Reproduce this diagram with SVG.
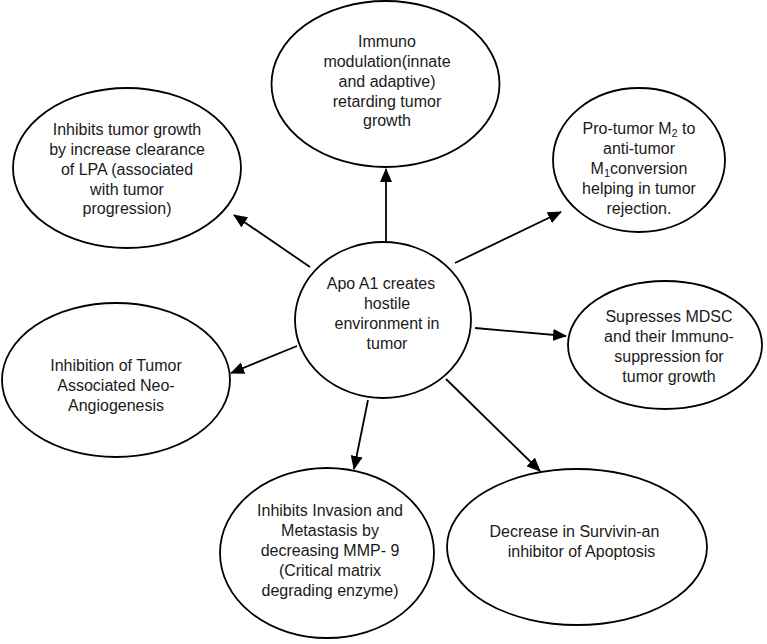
<svg xmlns="http://www.w3.org/2000/svg" width="767" height="644" viewBox="0 0 767 644">
<style>
.node ellipse{fill:#fff;stroke:#000;stroke-width:1.8}
.node text{font-family:"Liberation Sans",Arial,sans-serif;font-size:16px;fill:#1a1a1a;text-anchor:middle}
.conn line{stroke:#000;stroke-width:1.8}
.sub{font-size:11px}
</style>
<defs>
<marker id="ah" markerUnits="userSpaceOnUse" markerWidth="14" markerHeight="12" refX="13" refY="6" orient="auto">
<path d="M0,0 L14,6 L0,12 Z" fill="#000"/>
</marker>
</defs>
<rect width="767" height="644" fill="#fff"/>
<g class="conn">
<line x1="386" y1="242" x2="386" y2="169" marker-end="url(#ah)"/>
<line x1="310" y1="267" x2="234" y2="215" marker-end="url(#ah)"/>
<line x1="455" y1="263" x2="561" y2="212" marker-end="url(#ah)"/>
<line x1="475" y1="328" x2="566" y2="336" marker-end="url(#ah)"/>
<line x1="297" y1="346" x2="231" y2="373" marker-end="url(#ah)"/>
<line x1="368" y1="400" x2="354" y2="469" marker-end="url(#ah)"/>
<line x1="446" y1="379" x2="540" y2="471" marker-end="url(#ah)"/>
</g>
<g id="n-center" class="node">
<ellipse cx="383" cy="320" rx="88" ry="78"/>
<text><tspan x="381" y="289">Apo A1 creates</tspan><tspan x="387" y="309">hostile</tspan><tspan x="387" y="329">environment in</tspan><tspan x="387" y="349">tumor</tspan></text>
</g>
<g id="n-immuno" class="node">
<ellipse cx="385.5" cy="84" rx="114" ry="83"/>
<text><tspan x="387" y="47">Immuno</tspan><tspan x="387" y="67">modulation(innate</tspan><tspan x="387" y="87">and adaptive)</tspan><tspan x="387" y="107">retarding tumor</tspan><tspan x="387" y="126">growth</tspan></text>
</g>
<g id="n-lpa" class="node">
<ellipse cx="127" cy="168" rx="114" ry="80"/>
<text><tspan x="127" y="135">Inhibits tumor growth</tspan><tspan x="127" y="155">by increase clearance</tspan><tspan x="127" y="175">of LPA (associated</tspan><tspan x="127" y="195">with tumor</tspan><tspan x="127" y="214">progression)</tspan></text>
</g>
<g id="n-m2m1" class="node">
<ellipse cx="639" cy="160" rx="86" ry="72"/>
<text><tspan x="639" y="134">Pro-tumor M<tspan class="sub" dy="3">2</tspan><tspan dy="-3"> to</tspan></tspan><tspan x="639" y="154">anti-tumor</tspan><tspan x="639" y="174">M<tspan class="sub" dy="3">1</tspan><tspan dy="-3">conversion</tspan></tspan><tspan x="639" y="194">helping in tumor</tspan><tspan x="639" y="214">rejection.</tspan></text>
</g>
<g id="n-mdsc" class="node">
<ellipse cx="665" cy="345" rx="97" ry="64"/>
<text><tspan x="669" y="322">Supresses MDSC</tspan><tspan x="669" y="342">and their Immuno-</tspan><tspan x="669" y="362">suppression for</tspan><tspan x="669" y="382">tumor growth</tspan></text>
</g>
<g id="n-angio" class="node">
<ellipse cx="116" cy="380" rx="114" ry="77"/>
<text><tspan x="116" y="371">Inhibition of Tumor</tspan><tspan x="116" y="391">Associated Neo-</tspan><tspan x="116" y="411">Angiogenesis</tspan></text>
</g>
<g id="n-mmp" class="node">
<ellipse cx="327" cy="553" rx="107" ry="85"/>
<text><tspan x="330" y="516">Inhibits Invasion and</tspan><tspan x="330" y="536">Metastasis by</tspan><tspan x="330" y="556">decreasing MMP- 9</tspan><tspan x="330" y="576">(Critical matrix</tspan><tspan x="330" y="596">degrading enzyme)</tspan></text>
</g>
<g id="n-survivin" class="node">
<ellipse cx="577" cy="547" rx="130" ry="78"/>
<text><tspan x="574.5" y="537">Decrease in Survivin-an</tspan><tspan x="581.5" y="557">inhibitor of Apoptosis</tspan></text>
</g>
</svg>
